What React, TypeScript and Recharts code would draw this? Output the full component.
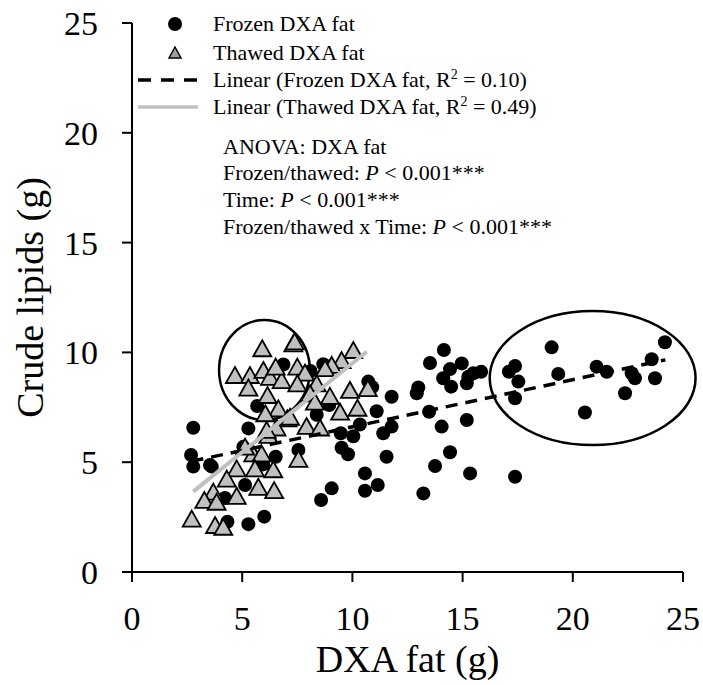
import React from "react";
import { ScatterChart, Scatter, XAxis, YAxis, ReferenceArea } from "recharts";

const serif = '"Liberation Serif", "Times New Roman", serif';

// [DXA fat (g), crude lipids (g)] for each sample
const frozenFat: [number, number][] = [
  [2.78, 6.57], [2.68, 5.33], [2.78, 4.8], [3.62, 4.8], [3.54, 4.87],
  [5.28, 6.54], [5.68, 7.56], [6.87, 9.45], [5.13, 3.96], [4.33, 2.29],
  [5.28, 2.18], [6.0, 2.52], [6.52, 5.25], [7.55, 5.56], [9.51, 5.66],
  [9.8, 5.36], [8.58, 3.28], [9.06, 3.81], [10.57, 4.49], [10.57, 3.7],
  [11.15, 3.96], [8.38, 7.16], [8.95, 7.6], [9.47, 6.32], [10.04, 6.18],
  [10.34, 6.72], [10.72, 8.67], [10.9, 8.42], [11.1, 7.32], [11.4, 6.32],
  [11.78, 6.62], [11.78, 7.98], [8.1, 9.15], [8.68, 9.46], [5.05, 5.7],
  [11.55, 5.25], [13.22, 3.58], [13.75, 4.83], [14.43, 5.45], [15.34, 4.49],
  [14.05, 6.62], [15.19, 6.92], [13.48, 7.3], [12.99, 8.4], [12.92, 8.14],
  [13.52, 9.52], [14.15, 10.11], [14.43, 9.24], [14.12, 8.82], [14.48, 8.44],
  [14.96, 9.5], [15.19, 8.59], [15.26, 8.89], [15.49, 9.05], [15.84, 9.12],
  [17.38, 9.38], [17.1, 9.12], [17.53, 8.67], [17.38, 7.91], [17.38, 4.34],
  [19.04, 10.23], [19.34, 9.02], [20.55, 7.26], [21.08, 9.35], [21.54, 9.12],
  [22.67, 9.05], [22.82, 8.82], [22.37, 8.14], [23.58, 9.69], [23.73, 8.82],
  [24.18, 10.46], [4.22, 3.37], [5.95, 4.9],
];

const thawedFat: [number, number][] = [
  [5.91, 10.19], [7.32, 10.41], [7.38, 10.5], [4.67, 8.97], [5.35, 8.97],
  [5.96, 9.2], [6.26, 8.89], [6.79, 8.74], [6.52, 9.35], [7.5, 9.35],
  [7.85, 9.08], [7.5, 8.59], [5.28, 8.4], [6.15, 8.06], [6.64, 7.45],
  [6.05, 7.23], [7.05, 7.0], [6.56, 6.58], [7.92, 6.65], [8.53, 6.58],
  [8.98, 8.02], [9.44, 7.3], [9.89, 8.29], [10.23, 7.48], [10.7, 8.37],
  [10.04, 10.11], [9.51, 9.65], [9.06, 9.43], [8.76, 9.28], [8.38, 8.59],
  [8.08, 8.14], [7.55, 5.15], [5.5, 5.4], [5.88, 5.4], [4.75, 4.72],
  [5.58, 4.72], [6.41, 4.68], [4.3, 4.25], [5.73, 3.88], [6.45, 3.73],
  [4.75, 3.47], [3.69, 3.66], [3.28, 3.28], [3.84, 3.2], [2.71, 2.43],
  [3.77, 2.14], [4.14, 2.06], [6.19, 6.24], [7.17, 7.07], [8.3, 7.76],
  [5.13, 5.71], [6.11, 6.47],
];

// end points of the linear fits
const frozenFit: [number, number][] = [[2.7, 5.04], [24.2, 9.66]];
const thawedFit: [number, number][] = [[2.78, 3.66], [10.65, 10.03]];

// circled groups as [x1, x2, y1, y2]
const circledGroups: [number, number, number, number][] = [
  [3.95, 8.07, 6.92, 11.48],
  [16.23, 25.57, 5.78, 11.88],
];

const axisTicks = [0, 5, 10, 15, 20, 25];

const toPoints = (rows: [number, number][]) => rows.map(([x, y]) => ({ x, y }));

const Dot = (p: any) => <circle cx={p.cx} cy={p.cy} r={7} fill="#000" />;

const Tri = (p: any) => {
  const { cx, cy } = p;
  return (
    <polygon
      points={`${cx},${cy - 8} ${cx + 9},${cy + 8} ${cx - 9},${cy + 8}`}
      fill="#c0c0c0"
      stroke="#000"
      strokeWidth={1.8}
    />
  );
};

const Ellipse = (p: any) => (
  <ellipse
    cx={p.x + p.width / 2}
    cy={p.y + p.height / 2}
    rx={Math.abs(p.width) / 2}
    ry={Math.abs(p.height) / 2}
    fill="none"
    stroke="#000"
    strokeWidth={2.5}
  />
);

const NoMark = () => <g />;

const YTitle = ({ viewBox }: any) => {
  const x = viewBox.x + 30;
  const y = viewBox.y + viewBox.height / 2;
  return (
    <text
      x={x}
      y={y}
      transform={`rotate(-90 ${x} ${y})`}
      textAnchor="middle"
      dominantBaseline="central"
      style={{ fontFamily: serif, fontSize: 38 }}
      fill="#000"
    >
      Crude lipids (g)
    </text>
  );
};

const Row = ({ y, x = 213, icon, children }: any) => (
  <>
    {icon && (
      <svg
        width={70}
        height={24}
        style={{ position: "absolute", left: 134, top: y - 12 }}
      >
        {icon}
      </svg>
    )}
    <div
      style={{
        position: "absolute",
        left: x,
        top: y - 14,
        height: 28,
        lineHeight: "28px",
        whiteSpace: "nowrap",
      }}
    >
      {children}
    </div>
  </>
);

const R2 = ({ v }: { v: string }) => (
  <>
    R<sup style={{ fontSize: 14, verticalAlign: 0, position: "relative", top: -8 }}>2</sup> = {v}
  </>
);

const tickStyle = { fontSize: 34, fill: "#000", fontFamily: serif };

export default function App() {
  return (
    <div
      style={{
        position: "absolute",
        left: 0,
        top: 0,
        width: 703,
        height: 685,
        background: "#fff",
        fontFamily: serif,
      }}
    >
      <ScatterChart
        width={703}
        height={685}
        margin={{ top: 23, right: 20, bottom: 0, left: 0 }}
        style={{ fontFamily: serif }}
      >
        <XAxis
          type="number"
          dataKey="x"
          domain={[0, 25]}
          ticks={axisTicks}
          height={113}
          tickSize={10}
          tickMargin={24}
          axisLine={{ stroke: "#000", strokeWidth: 2 }}
          tickLine={{ stroke: "#000", strokeWidth: 2 }}
          tick={tickStyle}
          label={{
            value: "DXA fat (g)",
            position: "insideBottom",
            offset: 13,
            fontSize: 38,
            fill: "#000",
            fontFamily: serif,
          }}
        />
        <YAxis
          type="number"
          dataKey="y"
          domain={[0, 25]}
          ticks={axisTicks}
          width={132}
          tickSize={10}
          tickMargin={24}
          axisLine={{ stroke: "#000", strokeWidth: 2 }}
          tickLine={{ stroke: "#000", strokeWidth: 2 }}
          tick={tickStyle}
          label={<YTitle />}
        />
        {circledGroups.map(([x1, x2, y1, y2], i) => (
          <ReferenceArea
            key={i}
            x1={x1}
            x2={x2}
            y1={y1}
            y2={y2}
            ifOverflow="visible"
            shape={<Ellipse />}
          />
        ))}
        <Scatter data={toPoints(frozenFat)} shape={Dot} isAnimationActive={false} />
        <Scatter data={toPoints(thawedFat)} shape={Tri} isAnimationActive={false} />
        <Scatter
          data={toPoints(frozenFit)}
          shape={NoMark}
          line={{ stroke: "#000", strokeWidth: 3.5, strokeDasharray: "12 8" }}
          isAnimationActive={false}
        />
        <Scatter
          data={toPoints(thawedFit)}
          shape={NoMark}
          line={{ stroke: "#c0c0c0", strokeWidth: 4 }}
          isAnimationActive={false}
        />
      </ScatterChart>

      <div style={{ position: "absolute", left: 0, top: 0, fontSize: 22, color: "#000" }}>
        <Row y={24} icon={<circle cx={41} cy={12} r={7} fill="#000" />}>
          Frozen DXA fat
        </Row>
        <Row
          y={53}
          icon={<polygon points="41,6 47,17 35,17" fill="#a0a0a0" stroke="#000" strokeWidth={1.5} />}
        >
          Thawed DXA fat
        </Row>
        <Row
          y={80}
          icon={<line x1={4} y1={12} x2={64} y2={12} stroke="#000" strokeWidth={3.5} strokeDasharray="13 10" />}
        >
          Linear (Frozen DXA fat, <R2 v="0.10" />)
        </Row>
        <Row
          y={107}
          icon={<line x1={4} y1={12} x2={64} y2={12} stroke="#c0c0c0" strokeWidth={3.5} />}
        >
          Linear (Thawed DXA fat, <R2 v="0.49" />)
        </Row>
        <Row y={147} x={223}>ANOVA: DXA fat</Row>
        <Row y={173} x={223}>
          Frozen/thawed: <i>P</i> &lt; 0.001***
        </Row>
        <Row y={200} x={223}>
          Time: <i>P</i> &lt; 0.001***
        </Row>
        <Row y={227} x={223}>
          Frozen/thawed x Time: <i>P</i> &lt; 0.001***
        </Row>
      </div>
    </div>
  );
}
